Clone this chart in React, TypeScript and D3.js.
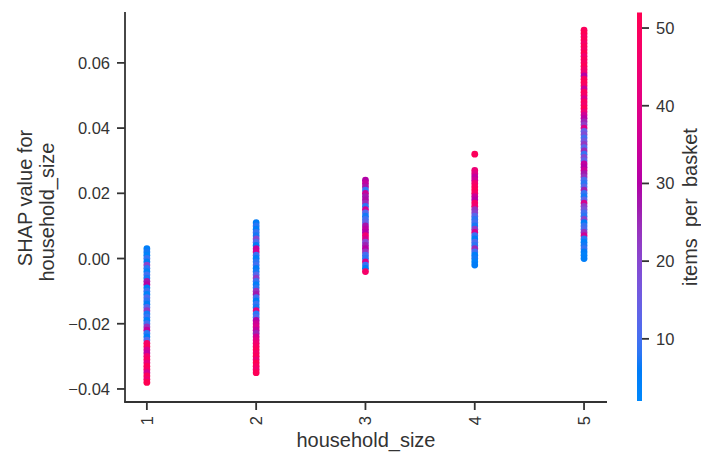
import React from 'react';
import * as d3 from 'd3';

const W = 701;
const H = 455;

// Tick values for the three axes
const xTicks = [1, 2, 3, 4, 5];
const yTicks = [-0.04, -0.02, 0.0, 0.02, 0.04, 0.06];
const cTicks = [10, 20, 30, 40, 50];

// [SHAP value for household_size, items per basket] for each household size
const size1: [number, number][] = [
  [0.003, 5], [0.002, 7], [0.001, 4], [0.0, 9], [-0.001, 6], [-0.002, 21], [-0.003, 8],
  [-0.004, 5], [-0.005, 10], [-0.006, 7], [-0.007, 27], [-0.008, 31], [-0.009, 6], [-0.01, 9],
  [-0.011, 4], [-0.012, 11], [-0.013, 8], [-0.014, 6], [-0.015, 12], [-0.016, 23], [-0.017, 7],
  [-0.018, 9], [-0.019, 5], [-0.02, 10], [-0.021, 24], [-0.022, 33], [-0.023, 8], [-0.024, 6],
  [-0.025, 12], [-0.026, 47], [-0.027, 50], [-0.028, 38], [-0.029, 33], [-0.03, 46], [-0.031, 49],
  [-0.032, 42], [-0.033, 51], [-0.034, 48], [-0.035, 37], [-0.036, 50], [-0.037, 45], [-0.038, 52],
];

const size2: [number, number][] = [
  [0.011, 6], [0.01, 8], [0.009, 5], [0.008, 9], [0.007, 7], [0.006, 20], [0.005, 11], [0.004, 6],
  [0.003, 33], [0.002, 36], [0.001, 9], [0.0, 5], [-0.001, 8], [-0.002, 10], [-0.003, 6], [-0.004, 7],
  [-0.005, 12], [-0.006, 22], [-0.007, 9], [-0.008, 5], [-0.009, 8], [-0.01, 24], [-0.011, 27],
  [-0.012, 10], [-0.013, 6], [-0.014, 9], [-0.015, 7], [-0.016, 40], [-0.017, 8], [-0.018, 11],
  [-0.019, 30], [-0.02, 35], [-0.021, 38], [-0.022, 33], [-0.023, 26], [-0.024, 37], [-0.025, 41],
  [-0.026, 45], [-0.027, 48], [-0.028, 51], [-0.029, 47], [-0.03, 50], [-0.031, 44], [-0.032, 52],
  [-0.033, 49], [-0.034, 46], [-0.035, 51],
];

const size3: [number, number][] = [
  [0.024, 30], [0.023, 33], [0.022, 28], [0.021, 9], [0.02, 34], [0.019, 27], [0.018, 29], [0.017, 25],
  [0.016, 8], [0.015, 36], [0.014, 12], [0.013, 7], [0.012, 10], [0.011, 14], [0.01, 28], [0.009, 32],
  [0.008, 30], [0.007, 45], [0.006, 38], [0.005, 20], [0.004, 26], [0.003, 31], [0.002, 24], [0.001, 10],
  [0.0, 8], [-0.001, 37], [-0.002, 9], [-0.003, 6], [-0.004, 47],
];

const size4: [number, number][] = [
  [0.032, 50], [0.027, 44], [0.026, 40], [0.025, 33], [0.024, 36], [0.023, 46], [0.022, 49], [0.021, 51],
  [0.02, 47], [0.019, 35], [0.018, 31], [0.017, 48], [0.016, 45], [0.015, 24], [0.014, 21], [0.013, 12],
  [0.012, 8], [0.011, 10], [0.01, 7], [0.009, 22], [0.008, 38], [0.007, 9], [0.006, 6], [0.005, 11],
  [0.004, 8], [0.003, 25], [0.002, 10], [0.001, 5], [0.0, 7], [-0.001, 4], [-0.002, 6],
];

const size5: [number, number][] = [
  [0.07, 50], [0.069, 52], [0.068, 49], [0.067, 51], [0.066, 47], [0.065, 50], [0.064, 48], [0.063, 52],
  [0.062, 46], [0.061, 50], [0.06, 49], [0.059, 51], [0.058, 47], [0.057, 45], [0.056, 30], [0.055, 49],
  [0.054, 51], [0.053, 48], [0.052, 34], [0.051, 50], [0.05, 47], [0.049, 38], [0.048, 49], [0.047, 46],
  [0.046, 51], [0.045, 44], [0.044, 36], [0.043, 31], [0.042, 26], [0.041, 22], [0.04, 39], [0.039, 14],
  [0.038, 19], [0.037, 10], [0.036, 16], [0.035, 23], [0.034, 12], [0.033, 25], [0.032, 9], [0.031, 20],
  [0.03, 13], [0.029, 33], [0.028, 30], [0.027, 35], [0.026, 27], [0.025, 24], [0.024, 11], [0.023, 8],
  [0.022, 12], [0.021, 26], [0.02, 9], [0.019, 7], [0.018, 13], [0.017, 37], [0.016, 22], [0.015, 18],
  [0.014, 10], [0.013, 8], [0.012, 21], [0.011, 6], [0.01, 9], [0.009, 11], [0.008, 24], [0.007, 36],
  [0.006, 8], [0.005, 5], [0.004, 7], [0.003, 9], [0.002, 6], [0.001, 4], [0.0, 5],
];

const householdSizes = [1, 2, 3, 4, 5];
const columnData = [size1, size2, size3, size4, size5];

// Blue -> purple -> red diverging map, interpolated in LCh space
function redBlue(t: number): string {
  const L = t < 0.5 ? 54 + (40 - 54) * (t / 0.5) : 40 + (54 - 40) * ((t - 0.5) / 0.5);
  const C = 70 + 20 * t;
  const h = 266.93 + (380.32 - 266.93) * t;
  return d3.hcl(h % 360, C, L).formatHex();
}

const FONT = '"Liberation Sans", Arial, sans-serif';
const INK = '#333333';

export default function App() {
  const x = d3.scaleLinear().domain([0.8, 5.21]).range([125, 607]);
  const y = d3.scaleLinear().domain([-0.044, 0.0756]).range([402, 12]);
  const c = d3.scaleLinear().domain([2, 52]).range([401, 12.5]);
  const color = d3.scaleSequential(redBlue).domain([2, 52]);

  const points = householdSizes.flatMap((s, i) =>
    columnData[i].map(([v, items], j) => ({ key: `${s}-${j}`, s, v, items }))
  );

  const gradStops = d3.range(0, 1.0001, 0.02);
  const fmtY = (v: number) => (v < 0 ? '\u2212' : '') + Math.abs(v).toFixed(2);

  return (
    <svg
      width={W}
      height={H}
      style={{ position: 'absolute', left: 0, top: 0, background: '#fff' }}
      fontFamily={FONT}
    >
      <defs>
        <linearGradient id="cbar" x1="0" y1="1" x2="0" y2="0">
          {gradStops.map((t) => (
            <stop key={t} offset={t} stopColor={redBlue(t)} />
          ))}
        </linearGradient>
      </defs>

      {/* points */}
      <g>
        {points.map((p) => (
          <circle key={p.key} cx={x(p.s)} cy={y(p.v)} r={3.4} fill={color(p.items)} />
        ))}
      </g>

      {/* spines */}
      <line x1={125} x2={125} y1={y.range()[1]} y2={402} stroke={INK} strokeWidth={1.8} />
      <line x1={124.1} x2={607} y1={402} y2={402} stroke={INK} strokeWidth={1.8} />

      {/* y axis */}
      {yTicks.map((t) => (
        <g key={t}>
          <line x1={117} x2={125} y1={y(t)} y2={y(t)} stroke={INK} strokeWidth={1.8} />
          <text x={110} y={y(t)} fontSize={16.5} fill={INK} textAnchor="end" dominantBaseline="central">
            {fmtY(t)}
          </text>
        </g>
      ))}

      {/* x axis */}
      {xTicks.map((t) => (
        <g key={t}>
          <line x1={x(t)} x2={x(t)} y1={402} y2={410} stroke={INK} strokeWidth={1.8} />
          <text
            transform={`translate(${x(t)},416) rotate(-90)`}
            fontSize={16.5}
            fill={INK}
            textAnchor="end"
            dominantBaseline="central"
          >
            {t}
          </text>
        </g>
      ))}

      <text x={366} y={447} fontSize={20} fill={INK} textAnchor="middle">
        household_size
      </text>
      <text transform="translate(32,198) rotate(-90)" fontSize={20} fill={INK} textAnchor="middle">
        SHAP value for
      </text>
      <text transform="translate(54,212) rotate(-90)" fontSize={20} fill={INK} textAnchor="middle">
        household_size
      </text>

      {/* colour bar */}
      <rect x={637} y={c(52)} width={5} height={c(2) - c(52)} fill="url(#cbar)" />
      {cTicks.map((t) => (
        <g key={t}>
          <line x1={642} x2={649} y1={c(t)} y2={c(t)} stroke={INK} strokeWidth={1.8} />
          <text x={656} y={c(t)} fontSize={16.5} fill={INK} dominantBaseline="central">
            {t}
          </text>
        </g>
      ))}
      <text
        transform="translate(697,207) rotate(-90)"
        fontSize={20}
        fill={INK}
        textAnchor="middle"
        style={{ whiteSpace: 'pre' }}
      >
        {'items  per  basket'}
      </text>
    </svg>
  );
}
